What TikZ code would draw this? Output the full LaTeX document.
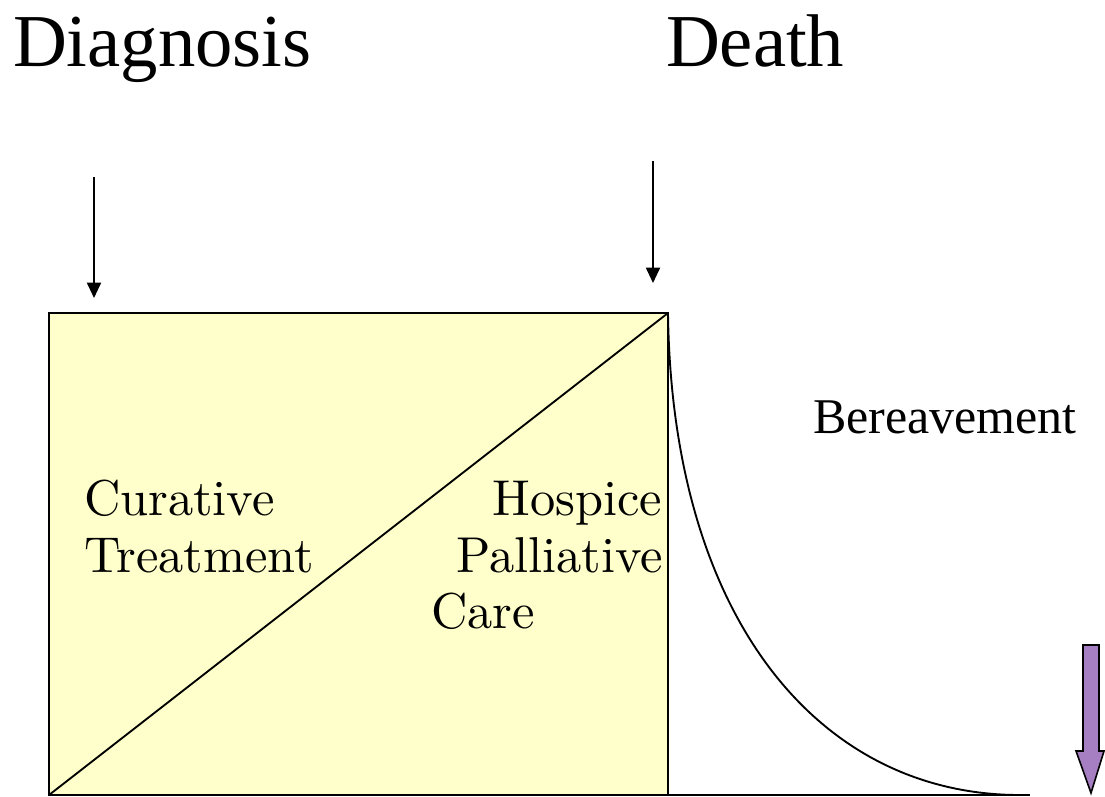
\documentclass[tikz,border=0pt]{standalone}
\usepackage{fontspec}
\newfontfamily\timesfont{Liberation Serif}
\newfontfamily\cmfont{lmroman10-regular}[Extension=.otf]
\usetikzlibrary{arrows.meta}
\definecolor{boxyellow}{HTML}{FFFFCC}
\definecolor{lilac}{HTML}{A67FC2}
\begin{document}
\begin{tikzpicture}[x=0.75pt,y=-0.75pt,
  lbl/.style={inner sep=0pt,outer sep=0pt},
  bigtitle/.style={lbl,font=\timesfont\fontsize{56}{60}\selectfont,anchor=base west},
  boxtext/.style={lbl,font=\cmfont\fontsize{37.8}{42}\selectfont},
  pointer/.style={line width=1.4pt,-{Triangle[length=11.5pt,width=10.5pt]}},
  edge/.style={line width=1.4pt}]
\useasboundingbox (0,0) rectangle (1105,796);
% titles
\node[bigtitle] (diag) at (13,66) {Diagnosis};
\node[bigtitle] (death) at (666,66) {Death};
% arrows
\coordinate (a1s) at (94,177);
\coordinate (a1e) at (94,298);
\coordinate (a2s) at (653,161);
\coordinate (a2e) at (653,283);
\draw[pointer] (a1s) -- (a1e);
\draw[pointer] (a2s) -- (a2e);
% box
\coordinate (bl) at (49,795);
\coordinate (tl) at (49,313);
\coordinate (tr) at (668,313);
\coordinate (br) at (668,795);
\coordinate (end) at (1030,795);
\fill[boxyellow] (bl) rectangle (tr);
\draw[edge] (bl) -- (tl) -- (tr) -- (br) -- cycle;
\draw[edge] (bl) -- (tr);
\draw[edge] (br) -- (end);
% curve
\draw[edge] (tr) .. controls (672,620) and (820,795) .. (1020,795);
% texts
\node[boxtext,anchor=base west] (cur) at (84,515) {Curative};
\node[boxtext,anchor=base west] (treat) at (84,572) {Treatment};
\node[boxtext,anchor=base east] (hosp) at (662,515) {Hospice};
\node[boxtext,anchor=base east] (pall) at (663,572) {Palliative};
\node[boxtext,anchor=base west] (care) at (431,628) {Care};
\node[lbl,font=\timesfont\fontsize{37.5}{40}\selectfont,anchor=base west] (ber) at (813,433) {Bereavement};
% purple block arrow
\filldraw[fill=lilac,draw=black,line width=1.2pt,line join=miter]
  (1083,645) -- (1099,645) -- (1099,751) -- (1104,751) -- (1091,793)
  -- (1076,751) -- (1083,751) -- cycle;
\end{tikzpicture}
\end{document}
